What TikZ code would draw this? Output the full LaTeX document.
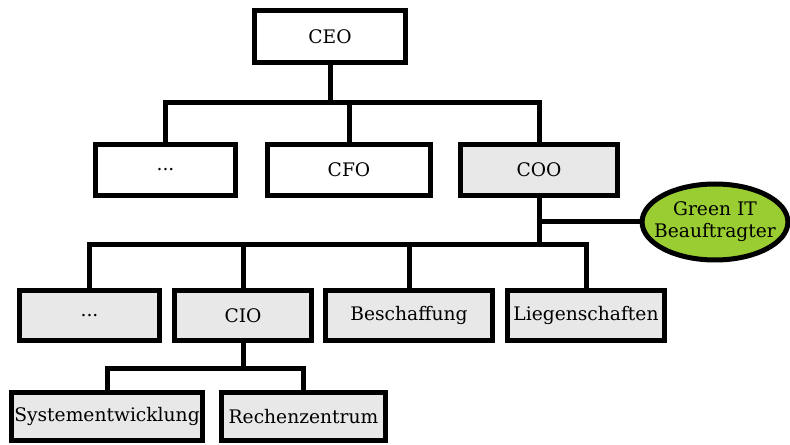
\documentclass[tikz,border=0pt]{standalone}
\usepackage{fontspec}
\setmainfont{DejaVu Serif}
\usetikzlibrary{positioning,shapes.geometric}
\definecolor{boxgray}{RGB}{232,232,232}
\definecolor{yellowgreen}{RGB}{154,205,50}

\begin{document}
\begin{tikzpicture}[
    x=0.75pt, y=-0.75pt,
    orgbox/.style={draw, line width=3.75pt, inner sep=1pt, font=\fontsize{14}{16.5}\selectfont},
    staff/.style={orgbox, fill=boxgray},
    conn/.style={line width=3.75pt}]

    \useasboundingbox (0,0) rectangle (790,445);

    % top level
    \node[orgbox, minimum width=113pt, minimum height=39pt] (CEO) at (330,36.5) {CEO};

    \node[orgbox, minimum width=105pt, minimum height=38pt] (dots1) at (165.5,170) {...};
    \node[orgbox, minimum width=122pt, minimum height=38pt] (CFO) at (349,170) {CFO};
    \node[staff, minimum width=117.5pt, minimum height=38pt] (COO) at (539,170) {COO};

    \node[ellipse, draw, line width=3.75pt, fill=yellowgreen, inner xsep=-7pt, inner ysep=0pt,
          align=center, minimum width=108pt, minimum height=57pt, font=\fontsize{14}{16.5}\selectfont]
          (green) at (715,222) {Green IT\\Beauftragter};

    % below COO
    \node[staff, minimum width=105pt, minimum height=37.5pt] (dots2) at (89.5,315.5) {...};
    \node[staff, minimum width=102.5pt, minimum height=37.5pt] (CIO) at (243,315.5) {CIO};
    \node[staff, minimum width=125pt, minimum height=37.5pt] (besch) at (409,315.5) {Beschaffung};
    \node[staff, minimum width=117.5pt, minimum height=37.5pt] (liegen) at (586,315.5) {Liegenschaften};

    % below CIO
    \node[staff, minimum width=143pt, minimum height=36pt] (sysent) at (107,416.5) {Systementwicklung};
    \node[staff, minimum width=123pt, minimum height=36pt] (rz) at (303.5,416.5) {Rechenzentrum};

    % connectors
    \coordinate (bus1) at (330,103);
    \path (COO.south) ++(0,47) coordinate (bus2);
    \path (CIO.south) ++(0,26) coordinate (bus3);

    \draw[conn] (CEO.south) -- (bus1);
    \draw[conn] (dots1.north) |- (bus1) -| (COO.north);
    \draw[conn] (bus1) -| (CFO.north);

    \draw[conn] (COO.south) -- (bus2);
    \draw[conn] (COO.south |- green.west) -- (green.west);
    \draw[conn] (dots2.north) |- (bus2) -| (liegen.north);
    \draw[conn] (CIO.north) -- (CIO.north |- bus2);
    \draw[conn] (besch.north) -- (besch.north |- bus2);

    \draw[conn] (CIO.south) -- (bus3);
    \draw[conn] (sysent.north) |- (bus3) -| (rz.north);

\end{tikzpicture}
\end{document}
